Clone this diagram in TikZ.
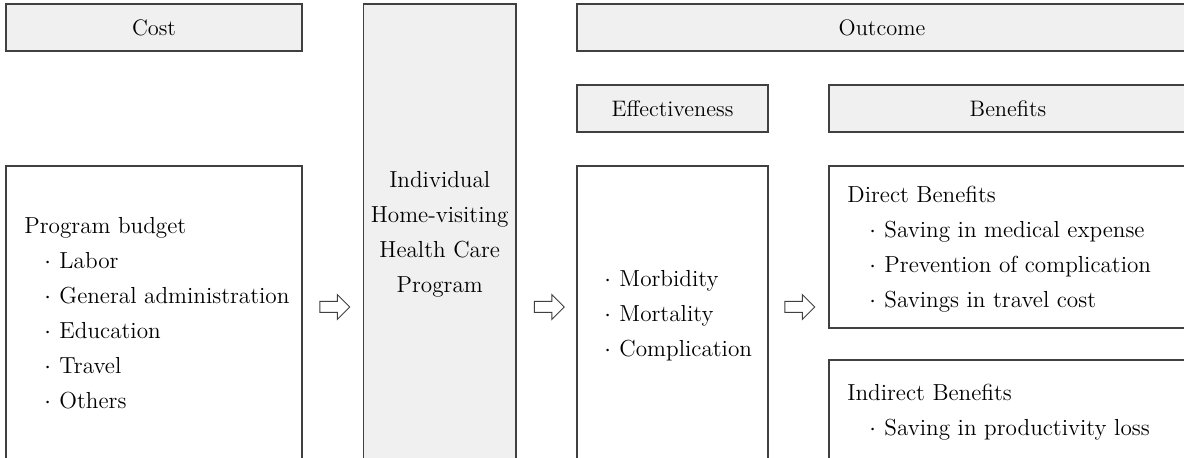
\documentclass[tikz,border=0pt]{standalone}
\usepackage{fontspec}
\usepackage{tikz}
\usetikzlibrary{shapes,
                 shapes.arrows,
                 calc
  }

\definecolor{boxgray}{RGB}{240,240,240}
\definecolor{linegray}{RGB}{64,64,64}
\newcommand{\bul}{$\cdot$\hspace{4.2pt}}

\begin{document}
\begin{tikzpicture}[
      x=0.5pt,
      y=-0.5pt,
      head/.style={
                rectangle,
                draw=linegray,
                line width=0.6pt,
                fill=boxgray,
                inner sep=0pt,
                minimum height=23.5pt,
                font=\fontsize{11.2}{14}\selectfont
                },
      panel/.style={
                rectangle,
                draw=linegray,
                line width=0.6pt,
                fill=white,
                inner sep=0pt
                },
      flow/.style={
                single arrow,
                draw=linegray,
                line width=0.5pt,
                fill=white,
                inner xsep=0pt,
                inner ysep=2.5pt,
                single arrow head extend=3.5pt,
                minimum height=15pt
                },
      txt/.style={anchor=base west, inner sep=0pt},
      every node/.style={font=\fontsize{11.6}{17.5}\selectfont}
]

\useasboundingbox (0,0) rectangle (1184,458);
\clip (0,0) rectangle (1184,458);

% top row
\node[head, minimum width=148pt] (cost) at (154,27.5) {Cost};
\node[head, minimum width=305pt] (outcome) at (882,27.5) {Outcome};
\node[head, minimum width=95.5pt] (effect) at (672.5,108.5) {Effectiveness};
\node[head, minimum width=179pt] (benefit) at (1008,108.5) {Benefits};

% program column
\node[panel, fill=boxgray, minimum width=76.25pt, minimum height=238pt] (prog) at (439.75,242) {};
\foreach \t [count=\i] in {Individual, Home-visiting, Health Care, Program}
  \node[anchor=base, inner sep=0pt] (prog-\i) at ($ (439.75,153) + (0,35*\i) $) {\t};

% lower boxes
\node[panel, minimum width=148pt, minimum height=157pt] (budget) at (154,323) {};
\node[panel, minimum width=95.5pt, minimum height=157pt] (effbox) at (672.5,323) {};
\node[panel, minimum width=179pt, minimum height=81pt] (direct) at (1008,247) {};
\node[panel, minimum width=179pt, minimum height=60pt] (indirect) at (1008,420) {};

\node[txt] (budget-0) at (24,234) {Program budget};
\foreach \t [count=\i] in {Labor, General administration, Education, Travel, Others}
  \node[txt] (budget-\i) at ($ (44,234) + (0,35*\i) $) {\bul\t};

\foreach \t [count=\i] in {Morbidity, Mortality, Complication}
  \node[txt] (effbox-\i) at ($ (604,252) + (0,35*\i) $) {\bul\t};

\node[txt] (direct-0) at (847,203) {Direct Benefits};
\foreach \t [count=\i] in {Saving in medical expense, Prevention of complication, Savings in travel cost}
  \node[txt] (direct-\i) at ($ (869,203) + (0,35*\i) $) {\bul\t};

\node[txt] (indirect-0) at (847,401) {Indirect Benefits};
\node[txt] (indirect-1) at (869,436) {\bul Saving in productivity loss};

% hollow arrows
\node[flow] (flow-a) at (332,307) {};
\node[flow] (flow-b) at (546.5,307) {};
\node[flow] (flow-c) at (797,307) {};

\end{tikzpicture}
\end{document}
